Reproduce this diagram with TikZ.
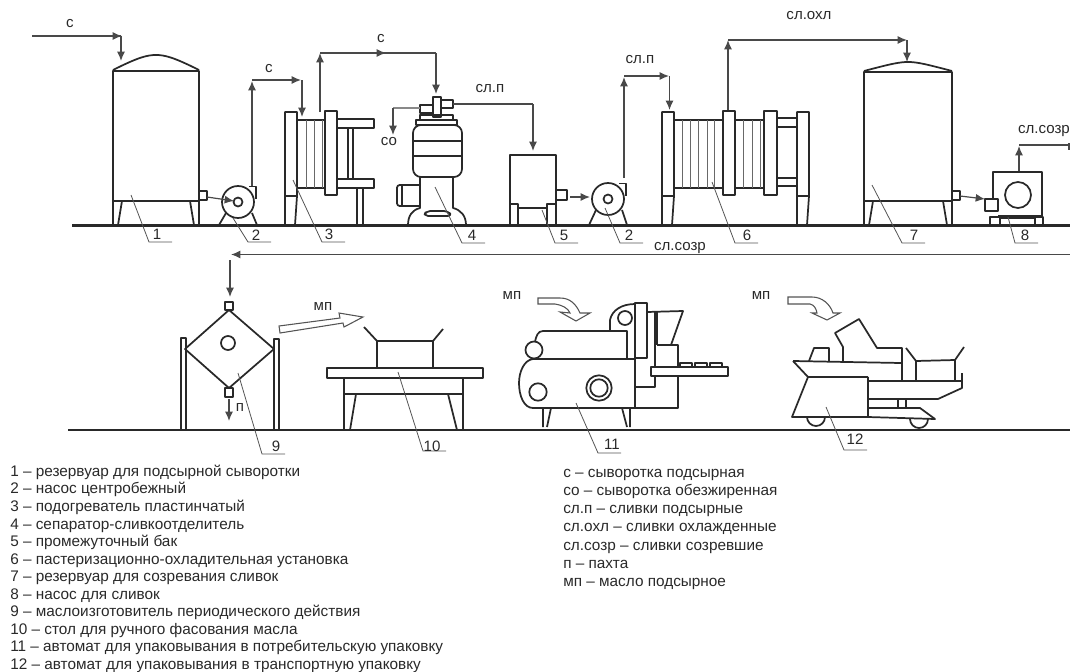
\documentclass[tikz,border=0pt]{standalone}
\usepackage{fontspec}
\setmainfont{Liberation Sans}
\usetikzlibrary{arrows.meta}
\definecolor{ink}{gray}{0.16}
\tikzset{
  unit/.style={draw=ink,line width=1.3pt,line join=round},
  base/.style={draw=ink,line width=1.6pt},
  rib/.style={draw=ink!70,line width=0.7pt},
  flow/.style={draw=ink!85,line width=0.9pt,-{Latex[length=7pt,width=6pt]}},
  pipe/.style={draw=ink!85,line width=0.9pt},
  leader/.style={draw=ink!80,line width=0.6pt},
  hollow/.style={draw=ink!80,line width=0.8pt,fill=white},
  tag/.style={font=\fontsize{11.3}{12}\selectfont,text=ink},
  item/.style={font=\fontsize{11.5}{12}\selectfont,text=ink,anchor=west,inner xsep=0pt,text height=8.2pt,text depth=2.4pt,yshift=-1.4pt},
}
\begin{document}
\begin{tikzpicture}[x=0.75pt,y=-0.75pt]
\useasboundingbox (0,0) rectangle (1070,671);
\draw[base] (72,225.5) -- (1070,225.5);
\draw[base] (68,430) -- (1070,430);
% tanks 1 and 7
\foreach \l/\r/\t/\h in {113/199/71/55,864/952/72/62}{
  \draw[unit] (\l,225) -- (\l,\t) -- (\r,\t) -- (\r,225);
  \draw[unit] (\l,201) -- (\r,201);
  \draw[unit] (\l,\t-1) .. controls ({\l+0.3*(\r-\l)},\h+2) and ({\l+0.4*(\r-\l)},\h) .. ({(\l+\r)/2},\h) .. controls ({\l+0.6*(\r-\l)},\h) and ({\l+0.7*(\r-\l)},\h+2) .. (\r,\t-1);
  \draw[unit] (\l+9,201) -- (\l+5,225) (\r-9,201) -- (\r-5,225);
  \draw[unit,line width=1pt] (\r,191) rectangle (\r+8,200);
}
% pumps 2
\foreach \x/\y in {238/202,608/199}{
  \draw[unit] (\x,\y) circle[radius=16];
  \draw[unit] (\x+11,\y-15.5) -- (\x+18,\y-15.5) -- (\x+18,\y-3);
  \draw[unit] (\x,\y) circle[radius=4.5];
  \draw[unit] (\x-19,225) -- (\x-12,\y+11) (\x+19,225) -- (\x+14,\y+11);
}
% plate frames 3 and 6
\foreach \x in {285,662,797}{
  \draw[unit] (\x,225) -- (\x,112) -- (\x+12,112) -- (\x+12,196) -- (\x+10,225) -- cycle;
  \draw[unit] (\x,196) -- (\x+12,196);
}
\foreach \l/\r in {325/337,723/735,764/777}{\draw[unit] (\l,111) rectangle (\r,195);}
\foreach \l/\r in {297/325,674/723,735/764}{\draw[unit] (\l,120) -- (\r,120) (\l,188) -- (\r,188);}
\foreach \x in {306,314,322,682,690,698,707,714,743,752,760}{\draw[rib] (\x,120) -- (\x,188);}
\draw[unit] (337,119) rectangle (374,128);
\draw[unit] (337,179) rectangle (374,188);
\draw[unit] (348,128) rectangle (353,179);
\draw[unit] (357,188) rectangle (363,225);
\draw[unit] (777,118) rectangle (797,127);
\draw[unit] (777,178) rectangle (797,186);
% separator 4
\draw[unit] (433,97) rectangle (441,117);
\draw[unit] (420,105) rectangle (433,113);
\draw[unit] (441,100) rectangle (453,108);
\draw[unit] (420,115) rectangle (453,120);
\draw[unit] (416,120) rectangle (457,125);
\draw[unit,rounded corners=6pt] (413,125) rectangle (462,177);
\draw[unit] (413,141) -- (462,141) (413,156) -- (462,156);
\draw[unit] (420,177) -- (420,208) .. controls (412,210) and (408,216) .. (408,225);
\draw[unit] (453,177) -- (453,208) .. controls (461,210) and (466,216) .. (466,225);
\draw[unit,rounded corners=3pt] (424,216) -- (426,211) -- (448,211) -- (452,216) -- cycle;
\draw[unit,rounded corners=2pt] (420,185) -- (397,185) -- (397,206) -- (420,206);
\draw[unit] (402,185) -- (402,206);
% buffer tank 5
\draw[unit] (510,225) -- (510,155) -- (556,155) -- (556,225);
\draw[unit] (518,208) -- (547,208);
\draw[unit] (510,204) rectangle (518,225);
\draw[unit] (547,204) rectangle (556,225);
\draw[unit] (556,190) rectangle (567,200);
% pump 8
\draw[unit] (993,199) -- (993,172) -- (1042,172) -- (1042,216) -- (998,216);
\draw[unit] (1018,195) circle[radius=13];
\draw[unit] (985,199) rectangle (998,211);
\draw[unit] (990,217) rectangle (1000,225);
\draw[unit] (1035,217) rectangle (1043,225);
\draw[unit] (1000,218) -- (1035,218);
% flows, upper row
\draw[pipe] (32,36) -- (121,36);
\draw[flow] (100,36) -- (122,36);
\draw[flow] (121,36) -- (121,61);
\draw[flow] (252,186) -- (252,81);
\draw[flow] (252,80) -- (301,80);
\draw[flow] (302,80) -- (302,117);
\draw[flow] (320,112) -- (320,53);
\draw[pipe] (320,53) -- (436,53);
\draw[flow] (340,53) -- (386,53);
\draw[flow] (436,53) -- (436,94);
\draw[pipe] (453,104) -- (533,104);
\draw[flow] (533,104) -- (533,151);
\draw[pipe,draw=ink!55] (420,108) -- (393,108);
\draw[flow] (393,108) -- (393,135);
\draw[flow] (207,197) -- (234,201);
\draw[flow] (570,197) -- (590,197);
\draw[flow] (624,178) -- (624,77);
\draw[flow] (624,76) -- (669,76);
\draw[flow] (669.5,76) -- (669.5,110);
\draw[flow] (728,110) -- (728,40);
\draw[pipe] (728,40) -- (900,40);
\draw[flow] (880,40) -- (907,40);
\draw[flow] (907,40) -- (907,62);
\draw[flow] (960,196) -- (985,199);
\draw[flow] (1019,171) -- (1019,146);
\draw[pipe] (1019,145) -- (1070,145);
\draw[pipe] (1069,143) -- (1069,150);
\draw[pipe] (1070,254.5) -- (240,254.5);
\draw[flow] (260,254.5) -- (231,254.5);
\draw[flow] (230,260) -- (230,297);
% churn 9
\draw[unit] (225,302) rectangle (233,310);
\draw[unit] (229,310) -- (274,349) -- (229,388) -- (185,349) -- cycle;
\draw[unit] (225,388) rectangle (233,397);
\draw[unit] (228,343) circle[radius=7];
\draw[unit] (181,338) rectangle (186,430);
\draw[unit] (274,339) rectangle (279,430);
\draw[flow] (229,399) -- (229,421);
\draw[hollow] (279,326) -- (340,318) -- (339,313) -- (363,317) -- (344,327) -- (343,323) -- (280,333) -- cycle;
% table 10
\draw[unit] (327,368) rectangle (483,378);
\draw[unit] (377,368) -- (377,341) -- (433,341) -- (433,368);
\draw[unit] (377,341) -- (364,327) (433,341) -- (443,329);
\draw[unit] (344,378) -- (344,430) (463,378) -- (463,430) (344,394) -- (463,394);
\draw[unit] (356,394) -- (350,430) (448,394) -- (457,430);
% packer 11
\draw[hollow] (538,298) -- (538,304) -- (555,304) .. controls (562,305) and (568,308) .. (570,313) -- (560,312) -- (576,321) -- (590,313) -- (580,313) .. controls (576,304) and (570,298) .. (560,298) -- cycle;
\draw[unit] (635,359) -- (533,359) .. controls (524,360) and (519,372) .. (519,383) .. controls (519,396) and (524,408) .. (533,408) -- (678,408) -- (678,345) -- (657,345);
\draw[unit] (635,304) -- (635,408);
\draw[unit] (635,303) rectangle (647,358);
\draw[unit] (610,331) -- (610,320) .. controls (612,310) and (622,304) .. (635,304);
\draw[unit] (625,318) circle[radius=7];
\draw[unit] (535,342) .. controls (536,336) and (538,331) .. (543,331) -- (627,331) -- (627,358);
\draw[unit] (534,350) circle[radius=8.5];
\draw[unit] (538,392) circle[radius=8.7];
\draw[unit] (599,388) circle[radius=12.7];
\draw[unit] (599,388) circle[radius=8.7];
\draw[unit] (647,312) -- (683,311) -- (671,345);
\draw[unit] (655,312) -- (655,387) -- (635,387);
\draw[unit] (657,312) -- (657,345);
\draw[unit,fill=white] (651,367) rectangle (728,376);
\foreach \x in {680,695,710}{\draw[unit,line width=1pt] (\x,363) rectangle (\x+12,367);}
\draw[unit] (543,408) -- (543,427) (551,408) -- (547,427);
\draw[unit] (622,408) -- (627,427) (630,408) -- (630,427);
% packer 12
\draw[hollow] (788,297) -- (788,304) -- (810,304) .. controls (814,305) and (816,308) .. (817,313) -- (812,313) -- (827,320) -- (840,313) -- (833,313) .. controls (830,304) and (822,297) .. (812,297) -- cycle;
\draw[unit] (843,361) -- (843,347) -- (835,333) -- (859,319) -- (877,348) -- (902,348) -- (902,380);
\draw[unit] (809,361) -- (814,348) -- (829,348) -- (829,361);
\draw[unit] (793,361) -- (901,363);
\draw[unit] (793,361) -- (808,377) -- (868,377);
\draw[unit] (808,377) -- (792,417) -- (868,417) -- (868,377);
\draw[unit] (868,381) -- (962,381);
\draw[unit] (962,373) -- (962,388) -- (938,399) -- (868,399);
\draw[unit] (916,380) -- (916,361) -- (955,360) -- (955,380);
\draw[unit] (916,361) -- (906,348) (955,360) -- (964,347);
\draw[unit] (898,399) -- (898,408) (906,399) -- (906,408);
\draw[unit] (868,408) -- (920,408) -- (935,419) -- (868,417);
\draw[unit] (807,417) arc[start angle=180,end angle=0,radius=9];
\draw[unit] (910,419) arc[start angle=180,end angle=0,radius=9];
% leaders
\foreach \a/\b/\c/\y in {131/195/149/242,233/218/248/242,293/180/322/242,435/187/462/243,542/210/555/243,605/208/620/243,712/182/735/243,872/185/902/243,1008/217/1015/243,238/373/262/454,398/372/423/451,576/403/598/453,826/407/844/450}{
  \draw[leader] (\a,\b) -- (\c,\y) -- ++(23,0);
}
% numbers
\node[tag] (n1) at (157,234) {1};
\node[tag] (n2a) at (256,235) {2};
\node[tag] (n3) at (329,234) {3};
\node[tag] (n4) at (472,235) {4};
\node[tag] (n5) at (564,235) {5};
\node[tag] (n2b) at (629,235) {2};
\node[tag] (n6) at (747,235) {6};
\node[tag] (n7) at (914,235) {7};
\node[tag] (n8) at (1025,235) {8};
\node[tag] (n9) at (276,446) {9};
\node[tag] (n10) at (432,446) {10};
\node[tag] (n11) at (612,444) {11};
\node[tag] (n12) at (855,439) {12};
% stream names
\node[tag] (s1) at (70,24) {с};
\node[tag] (s2) at (269,69) {с};
\node[tag] (s3) at (381,39) {с};
\node[tag] (so) at (389,142) {со};
\node[tag] (sp1) at (490,89) {сл.п};
\node[tag] (sp2) at (640,60) {сл.п};
\node[tag] (sohl) at (809,16) {сл.охл};
\node[tag] (ssz1) at (1044,131) {сл.созр};
\node[tag] (ssz2) at (680,248) {сл.созр};
\node[tag] (pt) at (240,408) {п};
\node[tag] (mp1) at (323,307) {мп};
\node[tag] (mp2) at (512,296) {мп};
\node[tag] (mp3) at (761,296) {мп};
% legend
\foreach \i/\y/\t in {1/471/{1 – резервуар для подсырной сыворотки},
  2/488/{2 – насос центробежный},
  3/506/{3 – подогреватель пластинчатый},
  4/524/{4 – сепаратор-сливкоотделитель},
  5/541/{5 – промежуточный бак},
  6/559/{6 – пастеризационно-охладительная установка},
  7/576/{7 – резервуар для созревания сливок},
  8/594/{8 – насос для сливок},
  9/611/{9 – маслоизготовитель периодического действия},
  10/629/{10 – стол для ручного фасования масла},
  11/646/{11 – автомат для упаковывания в потребительскую упаковку},
  12/664/{12 – автомат для упаковывания в транспортную упаковку}}{
  \node[item] (left\i) at (10,\y) {\t};
}
\foreach \i/\y/\t in {1/472/{с – сыворотка подсырная},
  2/490/{со – сыворотка обезжиренная},
  3/508/{сл.п – сливки подсырные},
  4/526/{сл.охл – сливки охлажденные},
  5/545/{сл.созр – сливки созревшие},
  6/563/{п – пахта},
  7/581/{мп – масло подсырное}}{
  \node[item] (right\i) at (563,\y) {\t};
}
\end{tikzpicture}
\end{document}
